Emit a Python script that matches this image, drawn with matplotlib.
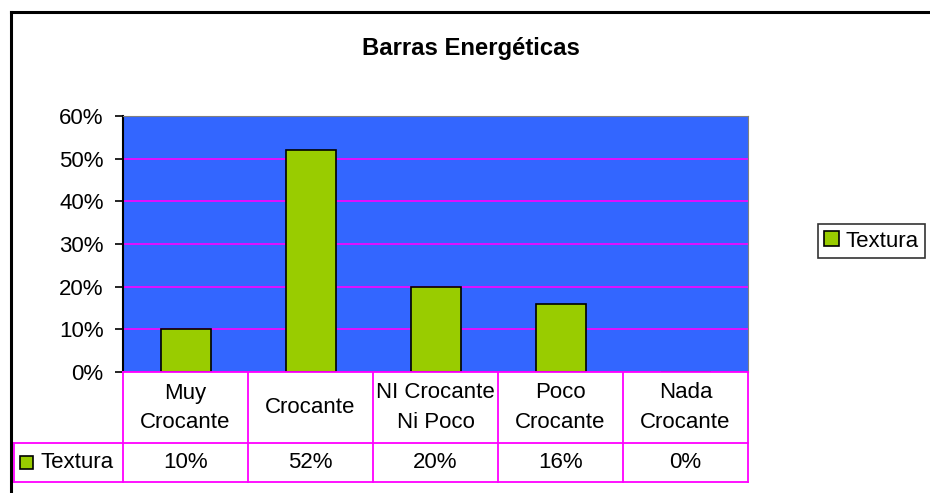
import matplotlib
matplotlib.use('Agg')
import matplotlib.pyplot as plt
from matplotlib.patches import Rectangle
from matplotlib.lines import Line2D
from matplotlib.ticker import PercentFormatter

plt.rcParams['font.family'] = ['Liberation Sans', 'DejaVu Sans']

categories = ['Muy\nCrocante', 'Crocante', 'NI Crocante\nNi Poco', 'Poco\nCrocante', 'Nada\nCrocante']
values = [0.10, 0.52, 0.20, 0.16, 0.00]
value_labels = ['10%', '52%', '20%', '16%', '0%']
series = 'Textura'

green = '#99CC00'
blue = '#3366FF'
magenta = '#FF00FF'
fs = 16

fig = plt.figure(figsize=(9.3, 4.93), dpi=100)
W, H = 930, 493

# outer chart frame (only top and left edges visible)
fig.add_artist(Line2D([11 / W, 1], [1 - 12 / H, 1 - 12 / H], color='black', lw=2.2))
fig.add_artist(Line2D([11 / W, 11 / W], [0, 1 - 12 / H], color='black', lw=2.2))

fig.text(471 / W, 1 - 48 / H, 'Barras Energéticas', ha='center', va='center',
         fontsize=17.2, fontweight='bold')

ax = fig.add_axes([123 / W, 1 - 372 / H, 625 / W, 256 / H])
ax.set_facecolor(blue)
x = list(range(len(categories)))
bars = ax.bar(x, values, width=0.4, color=green, edgecolor='black', lw=1.2,
              label=series, zorder=3)
ax.set_xlim(-0.5, len(categories) - 0.5)
ax.set_ylim(0, 0.6)
ax.set_yticks([0, 0.1, 0.2, 0.3, 0.4, 0.5, 0.6])
ax.yaxis.set_major_formatter(PercentFormatter(1.0, decimals=0))
ax.yaxis.grid(True, color=magenta, lw=1.2, zorder=1)
ax.set_axisbelow(True)
ax.set_xticks([])
ax.tick_params(axis='y', direction='out', length=6, width=1.2, pad=8, labelsize=fs)
ax.spines['left'].set_color('black')
ax.spines['left'].set_linewidth(1.5)
ax.spines['top'].set_color('#808080')
ax.spines['right'].set_color('#808080')
ax.spines['bottom'].set_visible(False)

# data table under the plot
trans = ax.get_xaxis_transform()
h1 = 71 / 256
h2 = 39 / 256
y1 = -h1
y2 = -h1 - h2
xl = -0.5
xr = len(categories) - 0.5
xrow = -0.5 - 109 / 125
kw = dict(color=magenta, lw=1.3, transform=trans, clip_on=False, zorder=5)
ax.plot([xl, xr], [0, 0], **kw)
ax.plot([xrow, xr], [y1, y1], **kw)
ax.plot([xrow, xr], [y2, y2], **kw)
ax.plot([xrow, xrow], [y1, y2], **kw)
for i in range(len(categories) + 1):
    ax.plot([xl + i, xl + i], [0, y2], **kw)
for i, (c, v) in enumerate(zip(categories, value_labels)):
    ax.text(i, y1 / 2, c, transform=trans, ha='center', va='center',
            fontsize=fs, linespacing=1.5)
    ax.text(i, (y1 + y2) / 2, v, transform=trans, ha='center', va='center',
            fontsize=fs)
ax.add_patch(Rectangle((-0.5 - 103 / 125, (y1 + y2) / 2 - 6.5 / 256), 13 / 125, 13 / 256,
                       facecolor=green, edgecolor='black', lw=1.2, transform=trans,
                       clip_on=False))
ax.text(-0.5 - 82 / 125, (y1 + y2) / 2, series, transform=trans, ha='left',
        va='center', fontsize=fs)

leg = ax.legend(loc='center', bbox_to_anchor=(871.5 / W, 1 - 241 / H),
                bbox_transform=fig.transFigure, fontsize=fs, frameon=True,
                fancybox=False, handlelength=0.65, handleheight=0.65,
                handletextpad=0.3, borderpad=0.3, borderaxespad=0)
leg.get_frame().set_edgecolor('black')
leg.get_frame().set_linewidth(1.2)

fig.savefig('out.png', dpi=100)
